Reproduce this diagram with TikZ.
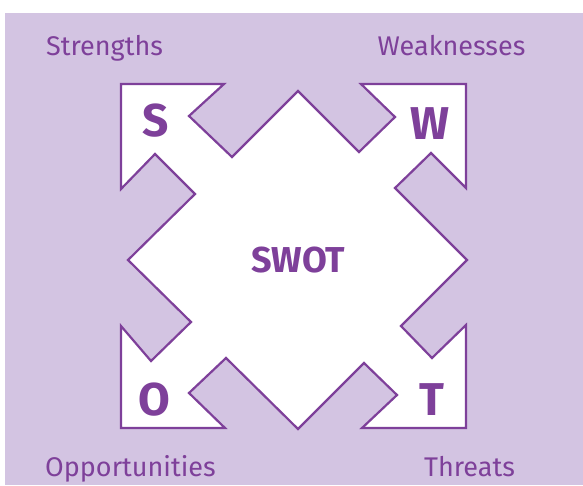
\documentclass[tikz,border=0pt]{standalone}
\usepackage{fontspec}
\setmainfont{Fira Sans}
\definecolor{bgpurple}{RGB}{211,196,226}
\definecolor{swpurple}{RGB}{126,64,154}
\begin{document}
\begin{tikzpicture}[x=1pt,y=-1pt,
  label/.style={text=swpurple,inner sep=0pt,anchor=base,font=\fontsize{27}{27}\selectfont},
  letter/.style={text=swpurple,inner sep=0pt,anchor=base,font=\fontsize{46}{46}\selectfont\bfseries},
  outline/.style={draw=swpurple,fill=white,line width=2.2pt,line join=miter}]
\useasboundingbox (0,0) rectangle (583,485);
\fill[bgpurple] (5,13) rectangle (583,485);
\draw[outline] (128,260) -- (195,194) -- (155,154) -- (121,189) -- (121,84) -- (224,84)
  -- (189,116) -- (232,157) -- (298,91) -- (359,152) -- (395,117) -- (361,84)
  -- (466,84) -- (466,188) -- (431,153) -- (395,188) -- (467,260) -- (401,326)
  -- (432,358) -- (466,325) -- (466,428) -- (362,428) -- (397,395) -- (364,363)
  -- (298,429) -- (226,358) -- (189,393) -- (225,428) -- (121,428) -- (121,326)
  -- (151,361) -- (191,322) -- cycle;
\node[label] (str) at (104.5,55) {Strengths};
\node[label] (weak) at (451.5,55) {Weaknesses};
\node[label] (opp) at (130.5,476.5) {Opportunities};
\node[label] (thr) at (469.5,476.5) {Threats};
\node[letter] (s) at (155.5,136) {S};
\node[letter] (w) at (429.5,139) {W};
\node[letter] (o) at (154,415.5) {O};
\node[letter] (t) at (432,415) {T};
\node[letter,font=\fontsize{36}{36}\selectfont\bfseries] (swot) at (298.5,272) {SWOT};
\end{tikzpicture}
\end{document}
